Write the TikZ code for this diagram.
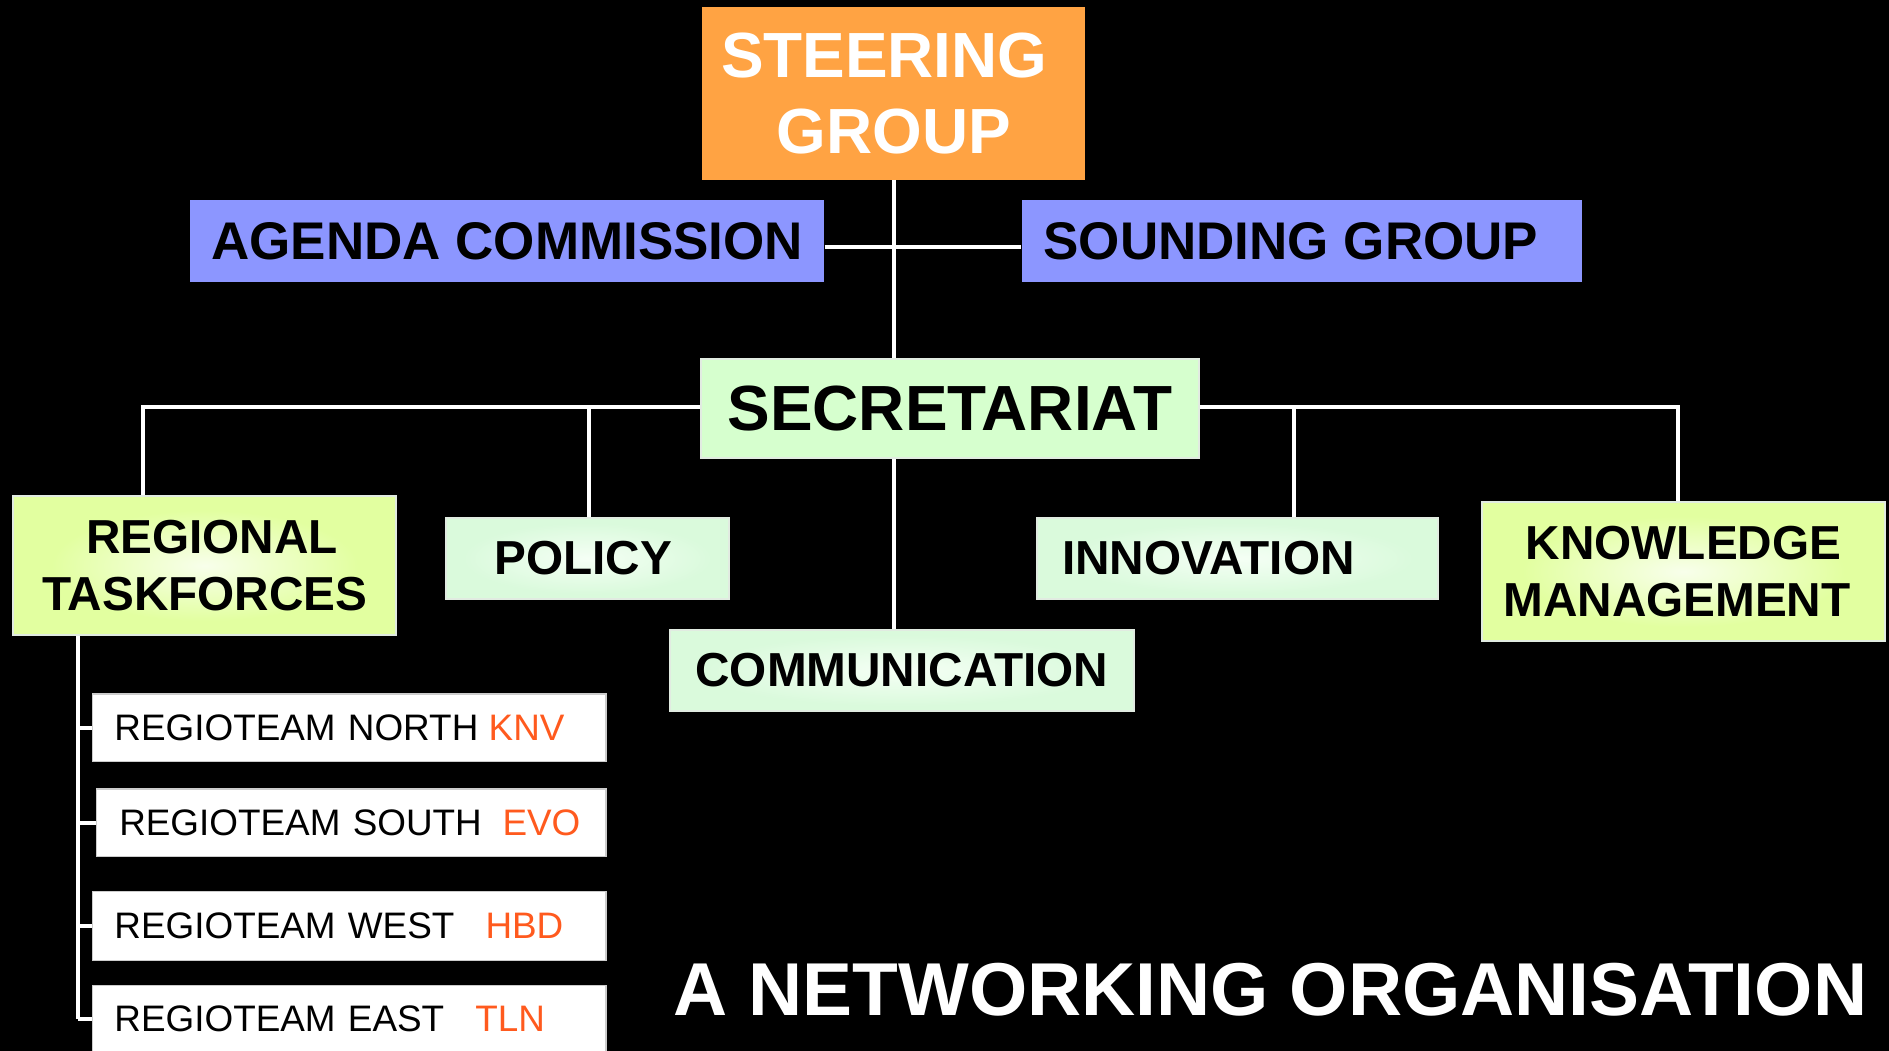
\documentclass[tikz,border=0pt]{standalone}
\usepackage{fontspec}
\setmainfont{Liberation Sans}
\definecolor{steer}{RGB}{255,163,67}
\definecolor{periw}{RGB}{140,150,255}
\definecolor{secgreen}{RGB}{214,255,206}
\definecolor{limeg}{RGB}{226,255,160}
\definecolor{limec}{RGB}{248,255,235}
\definecolor{mint}{RGB}{218,250,220}
\definecolor{mintc}{RGB}{245,255,245}
\definecolor{codeor}{RGB}{255,90,30}
\definecolor{edge}{RGB}{225,235,225}
\pgfdeclareradialshading{limeglow}{\pgfpoint{0bp}{0bp}}{color(0bp)=(limec); color(20bp)=(limeg); color(50bp)=(limeg)}
\pgfdeclareradialshading{mintglow}{\pgfpoint{0bp}{0bp}}{color(0bp)=(mintc); color(22bp)=(mint); color(50bp)=(mint)}
\tikzset{
  conn/.style={draw=white, line width=1.7pt},
  topbox/.style={rectangle, inner sep=0pt, fill=steer, text=white, align=center,
    font=\bfseries\fontsize{26.5}{31.5}\selectfont},
  sidebox/.style={rectangle, inner sep=0pt, fill=periw, text=black,
    font=\bfseries\fontsize{22}{26}\selectfont, minimum height=34pt},
  secbox/.style={rectangle, inner sep=0pt, fill=secgreen, draw=edge, line width=0.8pt,
    font=\bfseries\fontsize{26.5}{31.5}\selectfont, minimum height=41pt},
  limebox/.style={rectangle, inner sep=0pt, shading=limeglow, draw=edge, line width=0.8pt,
    align=center, font=\bfseries\fontsize{19.8}{24}\selectfont, minimum width=159pt, minimum height=57.5pt},
  mintbox/.style={rectangle, inner sep=0pt, shading=mintglow, draw=edge, line width=0.8pt,
    font=\bfseries\fontsize{19.8}{24}\selectfont, minimum height=33.5pt},
  teambox/.style={rectangle, inner ysep=0pt, fill=white, draw=gray!40, line width=0.5pt,
    align=left, font=\fontsize{15.3}{18}\selectfont},
  titletext/.style={text=white, inner sep=0pt, font=\bfseries\fontsize{31.1}{36}\selectfont}
}
\begin{document}
\begin{tikzpicture}[x=0.5pt,y=-0.5pt]
\fill[black] (0,0) rectangle (1568,872);
\useasboundingbox (0,0) rectangle (1568,872);

% top level
\node[topbox, minimum width=159pt, minimum height=71.5pt] (steer) at (742,77.5) {STEERING\hspace*{8pt}\\GROUP};
\node[sidebox, minimum width=263pt] (agenda) at (421,200) {AGENDA COMMISSION};
\node[sidebox, minimum width=232.5pt] (sound) at (1080.5,200) {SOUNDING GROUP\hspace*{9pt}};
\node[secbox, minimum width=206.5pt] (sec) at (788.5,339) {SECRETARIAT};

% second level
\node[limebox] (regional) at (170,469.5) {\hspace*{6pt}REGIONAL\\TASKFORCES};
\node[mintbox, minimum width=117.5pt] (policy) at (487.5,463.5) {POLICY\hspace*{3.5pt}};
\node[mintbox, minimum width=166.5pt] (innov) at (1027.5,463.5) {INNOVATION\hspace*{24.5pt}};
\node[limebox, minimum width=167.5pt] (knowl) at (1397.5,474.5) {KNOWLEDGE\\MANAGEMENT\hspace*{5.5pt}};
\node[mintbox, minimum width=192.5pt] (comm) at (748.5,556.5) {COMMUNICATION};

% regio teams
\node[teambox, inner xsep=9pt, text width=195pt, minimum height=28pt] (north) at (290,604)
  {REGIOTEAM NORTH\hspace{4.3pt}\textcolor{codeor}{KNV}};
\node[teambox, inner xsep=9.5pt, text width=192.5pt, minimum height=28pt] (south) at (291.5,683)
  {REGIOTEAM SOUTH\hspace{8.6pt}\textcolor{codeor}{EVO}};
\node[teambox, inner xsep=9pt, text width=195pt, minimum height=28.5pt] (west) at (290,768.5)
  {REGIOTEAM WEST\hspace{12.9pt}\textcolor{codeor}{HBD}};
\node[teambox, inner xsep=9pt, text width=195pt, minimum height=28pt] (east) at (290,846)
  {REGIOTEAM EAST\hspace{12.9pt}\textcolor{codeor}{TLN}};

% title
\node[titletext] (title) at (1054.5,821.5) {A NETWORKING ORGANISATION};

% connectors
\coordinate (ac) at (684,205);
\coordinate (sc) at (848,205);
\draw[conn] (steer.south) -- (steer.south |- sec.north);
\draw[conn] (agenda.east |- ac) -- (sound.west |- sc);
\coordinate (bl) at (119,338);
\coordinate (bp) at (489,338);
\coordinate (bi) at (1074,338);
\coordinate (br) at (1393,338);
\draw[conn] (sec.west |- bl) -- (bl) -- (bl |- regional.north);
\draw[conn] (bp) -- (bp |- policy.north);
\draw[conn] (sec.east |- br) -- (br) -- (br |- knowl.north);
\draw[conn] (bi) -- (bi |- innov.north);
\draw[conn] (steer.south |- sec.south) -- (steer.south |- comm.north);
\coordinate (bus) at (65,0);
\draw[conn] (bus |- regional.south) -- (bus |- east.west);
\foreach \t in {north,south,west,east}
  \draw[conn] (\t.west) -- (\t.west -| bus);
\end{tikzpicture}
\end{document}
